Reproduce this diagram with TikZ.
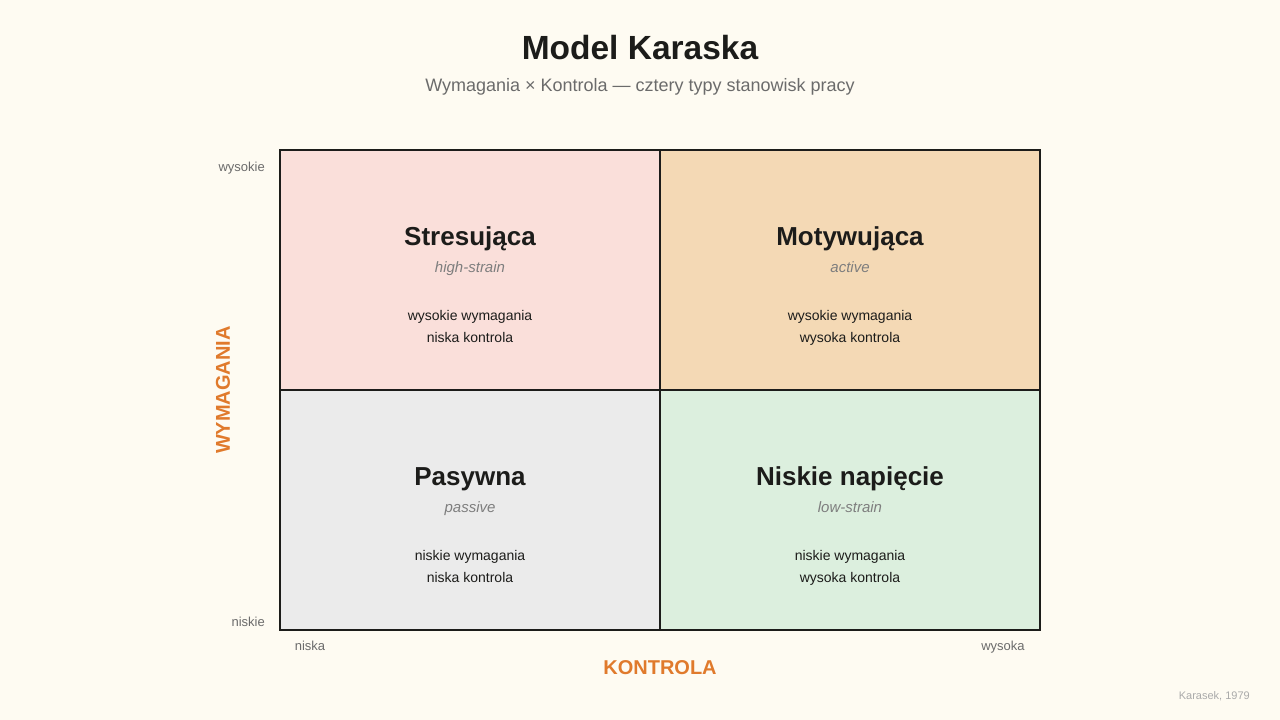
\documentclass[tikz,border=0pt]{standalone}
\usepackage{fontspec}
\setmainfont{Liberation Sans}
\definecolor{bg}{HTML}{FEFBF2}
\definecolor{ink}{HTML}{1C1C1A}
\definecolor{sub}{HTML}{6B6B6B}
\definecolor{ital}{HTML}{7E7E7E}
\definecolor{axisc}{HTML}{E07A2C}
\definecolor{cpink}{HTML}{FADFDA}
\definecolor{corange}{HTML}{F4D9B5}
\definecolor{cgray}{HTML}{EBEBEB}
\definecolor{cgreen}{HTML}{DCEFDE}
\definecolor{faint}{HTML}{AAAAAA}
\tikzset{
  cell/.style={draw=ink, line width=2pt, minimum width=380pt, minimum height=240pt, inner sep=0pt},
  ctitle/.style={anchor=base, inner sep=0pt, font=\fontsize{26}{30}\selectfont\bfseries, text=ink},
  csub/.style={anchor=base, inner sep=0pt, font=\fontsize{15}{18}\selectfont\itshape, text=ital},
  cbody/.style={anchor=base, inner sep=0pt, font=\fontsize{14}{22}\selectfont, text=ink},
  tick/.style={inner sep=0pt, font=\fontsize{13}{15}\selectfont, text=sub},
  axl/.style={font=\fontsize{20}{24}\selectfont\bfseries, text=axisc}
}
\begin{document}
\begin{tikzpicture}[x=1pt,y=-1pt]
\fill[bg] (0,0) rectangle (1280,720);
\useasboundingbox (0,0) rectangle (1280,720);
\node[font=\fontsize{33.5}{38}\selectfont\bfseries, text=ink] (title) at (640,48) {Model Karaska};
\node[font=\fontsize{18}{21}\selectfont, text=sub] (subtitle) at (640,87) {Wymagania × Kontrola — cztery typy stanowisk pracy};
% cells
\node[cell, fill=cpink] (c11) at (470,270) {};
\node[cell, fill=corange] (c12) at (850,270) {};
\node[cell, fill=cgray] (c21) at (470,510) {};
\node[cell, fill=cgreen] (c22) at (850,510) {};
\draw[ink, line width=2pt] (280,150) rectangle (1040,630);
% texts
\node[ctitle] (t11) at (470,245) {Stresująca};
\node[csub] (s11) at (470,272) {high-strain};
\node[cbody] (b11a) at (470,320) {wysokie wymagania};
\node[cbody] (b11b) at (470,342) {niska kontrola};
\node[ctitle] (t12) at (850,245) {Motywująca};
\node[csub] (s12) at (850,272) {active};
\node[cbody] (b12a) at (850,320) {wysokie wymagania};
\node[cbody] (b12b) at (850,342) {wysoka kontrola};
\node[ctitle] (t21) at (470,485) {Pasywna};
\node[csub] (s21) at (470,512) {passive};
\node[cbody] (b21a) at (470,560) {niskie wymagania};
\node[cbody] (b21b) at (470,582) {niska kontrola};
\node[ctitle] (t22) at (850,485) {Niskie napięcie};
\node[csub] (s22) at (850,512) {low-strain};
\node[cbody] (b22a) at (850,560) {niskie wymagania};
\node[cbody] (b22b) at (850,582) {wysoka kontrola};
% axes
\node[tick, anchor=base east] (yhi) at (265,171) {wysokie};
\node[tick, anchor=base east] (ylo) at (265,626) {niskie};
\node[tick, anchor=base] (xlo) at (310,650) {niska};
\node[tick, anchor=base] (xhi) at (1003,650) {wysoka};
\node[axl] (xlab) at (660,668) {KONTROLA};
\node[axl, rotate=90] (ylab) at (223,390) {WYMAGANIA};
\node[font=\fontsize{11}{13}\selectfont, text=faint, anchor=east, inner sep=0pt] (cite) at (1250,696) {Karasek, 1979};
\end{tikzpicture}
\end{document}
